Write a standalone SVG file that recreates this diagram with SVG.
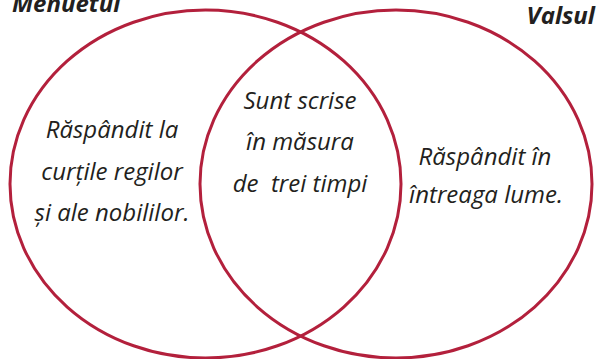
<svg xmlns="http://www.w3.org/2000/svg" width="599" height="359" viewBox="0 0 599 359">
<style>
.c{fill:none;stroke:#b3203c;stroke-width:3}
.t{font-family:"Open Sans","Noto Sans",sans-serif;font-style:italic;font-size:24px;fill:#231f20;text-anchor:middle}
.h{font-family:"Open Sans","Noto Sans",sans-serif;font-style:italic;font-weight:bold;font-size:24px;fill:#231f20}
</style>
<rect width="599" height="359" fill="#fff"/>
<g id="connectors"></g>
<g id="menuet">
<ellipse class="c" cx="205.5" cy="184" rx="195.5" ry="174"/>
<text class="h" x="12" y="12">Menuetul</text>
<text class="t" x="112" y="138">Răspândit la</text>
<text class="t" x="112" y="180">curțile regilor</text>
<text class="t" x="112" y="221">și ale nobililor.</text>
</g>
<g id="vals">
<ellipse class="c" cx="396" cy="184" rx="196" ry="174"/>
<text class="h" x="595" y="24" text-anchor="end">Valsul</text>
<text class="t" x="485" y="165">Răspândit în</text>
<text class="t" x="486" y="203">întreaga lume.</text>
</g>
<g id="common">
<text class="t" x="300" y="109">Sunt scrise</text>
<text class="t" x="300" y="150">în măsura</text>
<text class="t" x="300" y="192" xml:space="preserve">de  trei timpi</text>
</g>
</svg>
